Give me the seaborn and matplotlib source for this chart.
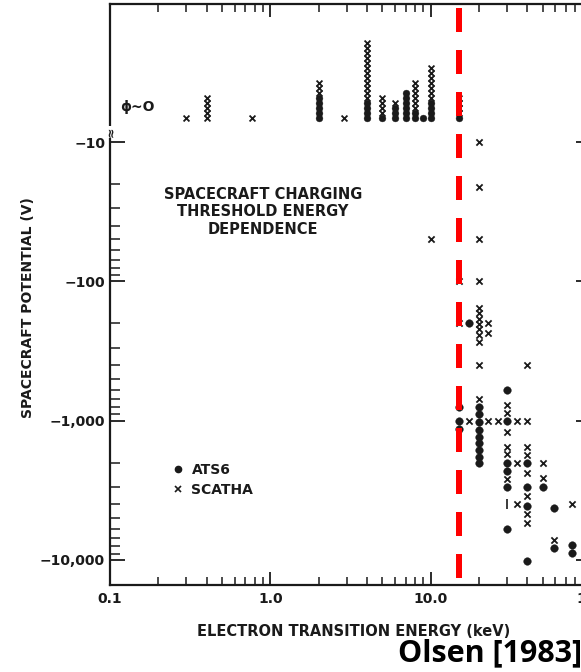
import matplotlib
matplotlib.use("Agg")
import matplotlib.pyplot as plt
import matplotlib.transforms as mtransforms
from matplotlib.lines import Line2D
from matplotlib.ticker import FixedLocator, NullFormatter
import pandas as pd
import seaborn as sns

# ---------------- data ----------------
# events with potential ~ 0 : energy (keV) and number of stacked symbols
phi0_energy = [0.3, 0.4, 0.77, 2.0, 2.9, 4.0, 5.0, 6.0, 7.0, 8.0, 9.0, 10.0, 15.0]
phi0_ats6_count = [0, 0, 0, 5, 0, 4, 1, 3, 6, 2, 1, 4, 1]
phi0_scatha_count = [1, 5, 1, 3, 1, 12, 4, 1, 0, 6, 0, 7, 4]

# charging events: energy (keV) and potential magnitude (V, plotted as negative)
ats6_energy = [15, 15, 15, 17.4,
               20, 20, 20, 20, 20, 20, 20, 20, 20,
               30, 30, 30, 30, 30, 30,
               40, 40, 40, 40,
               50, 59, 59, 76, 76]
ats6_potential = [800, 1000, 1150, 200,
                  800, 900, 1020, 1170, 1310, 1450, 1620, 1820, 2000,
                  600, 1000, 2000, 2300, 3000, 6000,
                  2000, 3000, 4100, 10200,
                  3000, 4250, 8200, 7800, 8900]

scatha_energy = [10, 15, 15, 17.4,
                 20, 20, 20, 20, 20, 20, 20, 20, 20, 20, 20, 20, 20,
                 22.8, 22.8, 22.8, 26.3,
                 30, 30, 30, 30, 30, 30,
                 34.6, 34.6, 34.6,
                 40, 40, 40, 40, 40, 40, 40, 40,
                 50, 50, 59, 76]
scatha_potential = [50, 100, 200, 1000,
                    10, 21, 50, 100, 155, 168, 186, 203, 220, 242, 273, 400, 700,
                    200, 236, 1000, 1000,
                    770, 880, 1200, 1550, 1750, 2630,
                    1000, 2000, 4000,
                    400, 1000, 1550, 1770, 2380, 3500, 4650, 5400,
                    2000, 2600, 7200, 4000]

range_bar_energy = [30]
range_bar_potential = [4000]

threshold_energy = [15]

x_ticks = [0.1, 1, 10, 100]
x_tick_labels = ["0.1", "1.0", "10.0", "100"]
y_ticks = [10, 100, 1000, 10000]
y_tick_labels = ["\u221210", "\u2212100", "\u22121,000", "\u221210,000"]

# ---------------- style ----------------
sns.set_style("ticks")
plt.rcParams["font.family"] = ["DejaVu Sans"]
plt.rcParams["font.weight"] = "bold"
INK = "#1a1a1a"

W, H = 581, 672
fig = plt.figure(figsize=(W / 100, H / 100), dpi=100)
fig.patch.set_facecolor("white")

# axes in pixel geometry (right spine lies just outside the picture)
L, R, T, B = 110, 591, 4, 585
ax = fig.add_axes([L / W, 1 - B / H, (R - L) / W, (B - T) / H])
ax.set_facecolor("white")
ax.set_xscale("log")
ax.set_yscale("log")
ax.set_xlim(0.1, 100)
ax.set_ylim(1.0217, 15140)
ax.invert_yaxis()

PHI0_ROW = 6.72      # display row used for the "phi ~ 0" events
STEP_PT = 3.6        # vertical stacking step for repeated symbols (points)

# ---- stacked phi~0 symbols ----
max_level = max(a + s for a, s in zip(phi0_ats6_count, phi0_scatha_count))
for k in range(max_level):
    dot_e = [e for e, a in zip(phi0_energy, phi0_ats6_count) if k < a]
    x_e = [e for e, a, s in zip(phi0_energy, phi0_ats6_count, phi0_scatha_count)
           if a <= k < a + s]
    tr = mtransforms.offset_copy(ax.transData, fig=fig, x=0, y=k * STEP_PT, units="points")
    if dot_e:
        sns.scatterplot(x=dot_e, y=[PHI0_ROW] * len(dot_e), ax=ax, marker="o",
                        s=24, color=INK, edgecolor=INK, linewidth=0.3,
                        transform=tr, zorder=3, legend=False)
    if x_e:
        sns.scatterplot(x=x_e, y=[PHI0_ROW] * len(x_e), ax=ax, marker="x",
                        s=18, color=INK, linewidth=1.3,
                        transform=tr, zorder=3, legend=False)

# ---- charging events ----
ats6_df = pd.DataFrame({"energy": ats6_energy, "potential": ats6_potential})
scatha_df = pd.DataFrame({"energy": scatha_energy, "potential": scatha_potential})
sns.scatterplot(data=ats6_df, x="energy", y="potential", ax=ax, marker="o",
                s=30, color=INK, edgecolor=INK, linewidth=0.3, zorder=3, legend=False)
sns.scatterplot(data=scatha_df, x="energy", y="potential", ax=ax, marker="x",
                s=20, color=INK, linewidth=1.3, zorder=3, legend=False)
sns.scatterplot(x=range_bar_energy, y=range_bar_potential, ax=ax, marker="|",
                s=60, color=INK, linewidth=1.2, zorder=3, legend=False)

# ---- threshold line ----
for e in threshold_energy:
    ax.axvline(e, ymin=7 / 581, ymax=577 / 581, color="#ff0000", lw=4.32,
               linestyle=(0, (4, 3)), zorder=10)

# ---- ticks ----
ax.set_xticks(x_ticks, labels=x_tick_labels)
ax.set_yticks(y_ticks, labels=y_tick_labels)
ax.yaxis.set_minor_locator(FixedLocator([m * 10 ** d for d in (1, 2, 3) for m in range(2, 10)]))
ax.yaxis.set_minor_formatter(NullFormatter())
ax.xaxis.set_minor_formatter(NullFormatter())
ax.tick_params(axis="both", which="both", direction="in", top=True, right=True,
               colors=INK, labelsize=10)
ax.tick_params(axis="x", which="major", length=9.5, width=1.3, pad=5)
ax.tick_params(axis="x", which="minor", length=5.8, width=1.1)
ax.tick_params(axis="y", which="major", length=10.5, width=1.3, pad=3.5)
ax.tick_params(axis="y", which="minor", length=7.5, width=1.1)
for lab in ax.get_xticklabels() + ax.get_yticklabels():
    lab.set_fontweight("bold")
for sp in ax.spines.values():
    sp.set_linewidth(1.6)
    sp.set_color(INK)

# ---- labels ----
ax.set_xlabel("ELECTRON TRANSITION ENERGY (keV)", fontsize=10.5, fontweight="bold", color=INK)
ax.xaxis.set_label_coords((354 - L) / (R - L), (B - 632) / (B - T))
ax.xaxis.label.set_va("center")
ax.set_ylabel("SPACECRAFT POTENTIAL (V)", fontsize=10, fontweight="bold", color=INK)
ax.yaxis.set_label_coords((28 - L) / (R - L), (B - 308) / (B - T))
ax.yaxis.label.set_va("center")

fig.text(263 / W, 1 - 212 / H, "SPACECRAFT CHARGING\nTHRESHOLD ENERGY\nDEPENDENCE",
         ha="center", va="center", multialignment="center", fontsize=10.5,
         fontweight="bold", color=INK, linespacing=1.2)
fig.text(120 / W, 1 - 107 / H, "\u03d5~O", ha="left", va="center", fontsize=10,
         fontweight="bold", color=INK)
fig.text(112 / W, 1 - 132 / H, "\u2248", ha="center", va="center", fontsize=9,
         color=INK, rotation=90, bbox=dict(boxstyle="square,pad=0.05", fc="white", ec="none"))

handles = [Line2D([], [], marker="o", ls="none", color=INK, markersize=4.5),
           Line2D([], [], marker="x", ls="none", color=INK, markersize=4.5, markeredgewidth=1.2)]
ax.legend(handles, ["ATS6", "SCATHA"], loc="upper left",
          bbox_to_anchor=(172 / W, 1 - 463 / H), bbox_transform=fig.transFigure,
          frameon=False, handlelength=0.8, handletextpad=0.6, borderpad=0,
          borderaxespad=0, labelspacing=0.45, prop={"size": 10, "weight": "bold"},
          labelcolor=INK)

fig.text(398 / W, 1 - 653 / H, "Olsen [1983]", ha="left", va="center",
         fontsize=22, fontweight="bold", family=["Open Sans", "DejaVu Sans"], color="black")

fig.savefig("out.png", dpi=100, facecolor="white")
